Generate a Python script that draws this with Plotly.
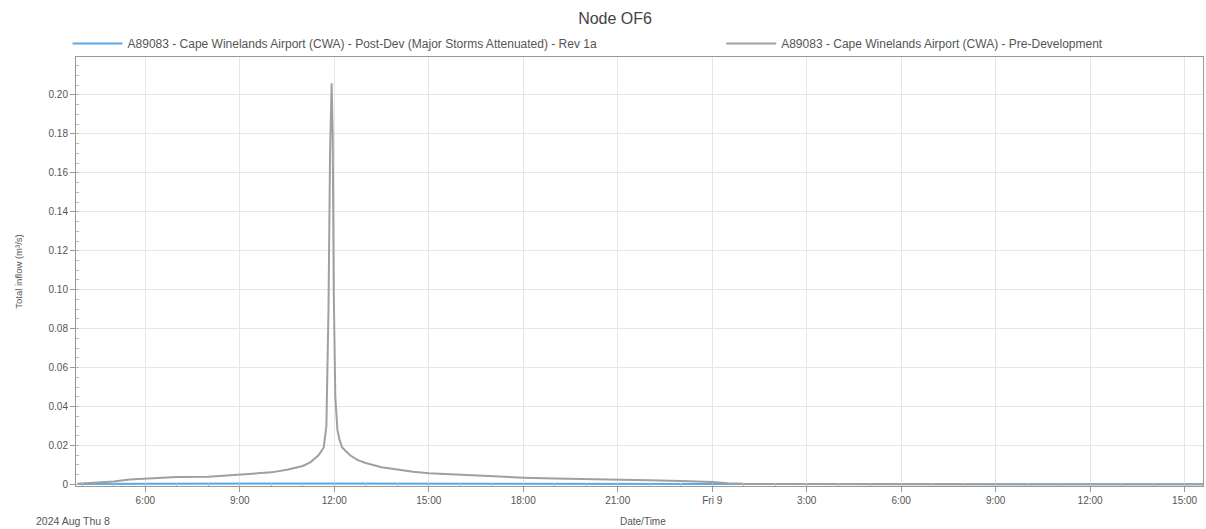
import plotly.graph_objects as go

# Pre-Development series (grey)
pre_times = [
    "2024-08-08 03:50", "2024-08-08 04:30", "2024-08-08 05:00", "2024-08-08 05:30",
    "2024-08-08 06:00", "2024-08-08 06:30", "2024-08-08 07:00", "2024-08-08 08:00",
    "2024-08-08 09:00", "2024-08-08 09:30", "2024-08-08 10:00", "2024-08-08 10:30",
    "2024-08-08 11:00", "2024-08-08 11:15", "2024-08-08 11:30", "2024-08-08 11:40",
    "2024-08-08 11:45", "2024-08-08 11:49", "2024-08-08 11:52", "2024-08-08 11:55",
    "2024-08-08 11:57", "2024-08-08 11:59", "2024-08-08 12:02", "2024-08-08 12:06",
    "2024-08-08 12:10", "2024-08-08 12:15", "2024-08-08 12:30", "2024-08-08 12:45",
    "2024-08-08 13:00", "2024-08-08 13:30", "2024-08-08 14:00", "2024-08-08 14:30",
    "2024-08-08 15:00", "2024-08-08 16:00", "2024-08-08 17:00", "2024-08-08 18:00",
    "2024-08-08 19:00", "2024-08-08 20:00", "2024-08-08 21:00", "2024-08-08 22:00",
    "2024-08-08 23:00", "2024-08-08 23:45", "2024-08-09 00:00", "2024-08-09 00:30",
    "2024-08-09 01:00", "2024-08-09 03:00", "2024-08-09 09:00", "2024-08-09 15:35",
]
pre_values = [
    0.0003, 0.0008, 0.0015, 0.0025,
    0.0030, 0.0035, 0.0038, 0.0040,
    0.0050, 0.0055, 0.0062, 0.0075,
    0.0095, 0.0115, 0.0150, 0.0190,
    0.0300, 0.0900, 0.1700, 0.2060,
    0.1800, 0.1000, 0.0450, 0.0280,
    0.0230, 0.0190, 0.0150, 0.0125,
    0.0110, 0.0088, 0.0075, 0.0065,
    0.0058, 0.0050, 0.0042, 0.0035,
    0.0030, 0.0028, 0.0025, 0.0021,
    0.0018, 0.0015, 0.0012, 0.0006,
    0.0003, 0.0002, 0.0001, 0.0001,
]

# Post-Dev series (blue)
post_times = [
    "2024-08-08 03:50", "2024-08-08 06:00", "2024-08-08 12:00",
    "2024-08-08 18:00", "2024-08-09 00:00", "2024-08-09 01:00", "2024-08-09 15:35",
]
post_values = [0.0002, 0.0004, 0.0005, 0.0005, 0.0004, 0.0002, 0.0001]

tick_vals = [
    "2024-08-08 06:00", "2024-08-08 09:00", "2024-08-08 12:00", "2024-08-08 15:00",
    "2024-08-08 18:00", "2024-08-08 21:00", "2024-08-09 00:00", "2024-08-09 03:00",
    "2024-08-09 06:00", "2024-08-09 09:00", "2024-08-09 12:00", "2024-08-09 15:00",
]
tick_text = ["6:00", "9:00", "12:00", "15:00", "18:00", "21:00", "Fri 9",
             "3:00", "6:00", "9:00", "12:00", "15:00"]
y_ticks = [0, 0.02, 0.04, 0.06, 0.08, 0.10, 0.12, 0.14, 0.16, 0.18, 0.20]
y_text = ["0", "0.02", "0.04", "0.06", "0.08", "0.10", "0.12", "0.14", "0.16", "0.18", "0.20"]

name_post = "A89083 - Cape Winelands Airport (CWA) - Post-Dev (Major Storms Attenuated) - Rev 1a"
name_pre = "A89083 - Cape Winelands Airport (CWA) - Pre-Development"

fig = go.Figure()
fig.add_trace(go.Scatter(x=post_times, y=post_values, mode="lines", name=name_post,
                         line=dict(color="#5aaae6", width=2), legend="legend"))
fig.add_trace(go.Scatter(x=pre_times, y=pre_values, mode="lines", name=name_pre,
                         line=dict(color="#a0a0a0", width=2), legend="legend2"))

font_c = "#555555"
leg_common = dict(orientation="h", xref="container", yref="container",
                  xanchor="left", y=0.918, yanchor="middle",
                  font=dict(size=12, color=font_c), itemwidth=50,
                  bgcolor="rgba(0,0,0,0)")
fig.update_layout(
    width=1206, height=529,
    margin=dict(l=76, r=3, t=57, b=43, autoexpand=False),
    paper_bgcolor="white", plot_bgcolor="white",
    font=dict(family="Liberation Sans, Arial, sans-serif", size=10, color=font_c),
    title=dict(text="Node OF6", x=0.51, xanchor="center", y=0.965, yanchor="middle",
               font=dict(size=16, color="#444444")),
    showlegend=True,
    legend=dict(x=0.056, **leg_common),
    legend2=dict(x=0.598, **leg_common),
    xaxis=dict(
        range=["2024-08-08 03:48", "2024-08-09 15:35"],
        tickvals=tick_vals, ticktext=tick_text,
        showgrid=True, gridcolor="#e6e6e6", gridwidth=1,
        showline=True, linecolor="#999999", linewidth=1, mirror=True,
        ticks="outside", ticklen=5, tickcolor="#999999",
        minor=dict(dtick=3600000, ticks="inside", ticklen=3, tickcolor="#bbbbbb", showgrid=False),
        zeroline=False, tickfont=dict(size=10, color=font_c),
    ),
    yaxis=dict(
        range=[-0.0008, 0.2195],
        tickvals=y_ticks, ticktext=y_text,
        showgrid=True, gridcolor="#e6e6e6", gridwidth=1,
        showline=True, linecolor="#999999", linewidth=1, mirror=True,
        ticks="outside", ticklen=5, tickcolor="#999999",
        minor=dict(dtick=0.005, ticks="inside", ticklen=3, tickcolor="#bbbbbb", showgrid=False),
        zeroline=False, tickfont=dict(size=10, color=font_c),
        title=dict(text="Total inflow (m³/s)", font=dict(size=9.5, color=font_c), standoff=24),
    ),
    annotations=[
        dict(text="2024 Aug Thu 8", xref="paper", yref="paper", x=-0.037, y=-0.082,
             xanchor="left", yanchor="middle", showarrow=False, font=dict(size=10.5, color=font_c)),
        dict(text="Date/Time", xref="paper", yref="paper", x=0.503, y=-0.082,
             xanchor="center", yanchor="middle", showarrow=False, font=dict(size=10, color=font_c)),
    ],
)

fig.write_html("out.html")
